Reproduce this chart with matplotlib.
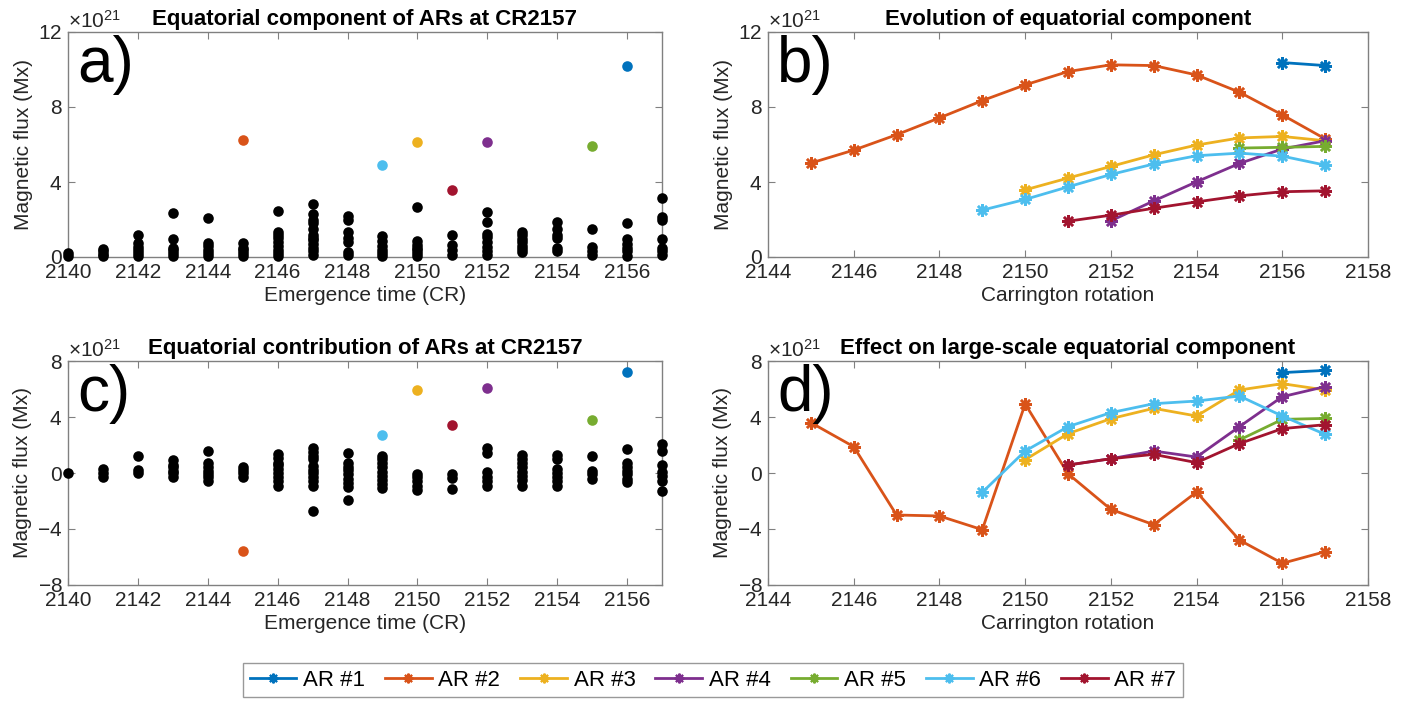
import matplotlib
matplotlib.use("Agg")
import matplotlib.pyplot as plt
from matplotlib.ticker import ScalarFormatter
from matplotlib.lines import Line2D

plt.rcParams['font.family'] = ['Liberation Sans', 'DejaVu Sans']
plt.rcParams['mathtext.fontset'] = 'custom'
plt.rcParams['mathtext.rm'] = 'Liberation Sans'
plt.rcParams['mathtext.it'] = 'Liberation Sans'
plt.rcParams['axes.unicode_minus'] = False

SCALE = 1e21

# ---------------- data (units of 1e21 Mx) ----------------
# Panel a: equatorial component of ARs at CR2157 (black dots per emergence CR)
a_black = {
    2140: [0.05, 0.2],
    2141: [0.05, 0.15, 0.3, 0.45],
    2142: [0.05, 0.2, 0.4, 0.55, 0.75, 1.2],
    2143: [0.05, 0.2, 0.4, 0.5, 0.95, 2.35],
    2144: [0.05, 0.2, 0.4, 0.6, 0.75, 2.07],
    2145: [0.05, 0.2, 0.35, 0.5, 0.75],
    2146: [0.05, 0.2, 0.4, 0.6, 0.8, 1.0, 1.2, 1.35, 2.45],
    2147: [0.1, 0.3, 0.5, 0.7, 0.9, 1.0, 1.2, 1.5, 1.8, 2.0, 2.3, 2.85],
    2148: [0.1, 0.25, 0.8, 1.0, 1.35, 2.0, 2.2],
    2149: [0.05, 0.2, 0.4, 0.6, 0.85, 1.1],
    2150: [0.05, 0.2, 0.35, 0.5, 0.65, 0.85, 2.65],
    2151: [0.1, 0.4, 0.65, 1.15],
    2152: [0.1, 0.3, 0.55, 0.8, 1.05, 1.25, 1.85, 2.42],
    2153: [0.25, 0.45, 0.6, 0.8, 0.95, 1.15, 1.35],
    2154: [0.3, 0.5, 1.0, 1.2, 1.5, 1.85],
    2155: [0.1, 0.3, 0.55, 1.5],
    2156: [0.05, 0.3, 0.5, 0.7, 0.95, 1.8],
    2157: [0.1, 0.3, 0.5, 0.95, 1.95, 2.15, 3.15],
}
# Panel c: equatorial contribution of ARs at CR2157 (black dots)
c_black = {
    2140: [0.0],
    2141: [-0.25, 0.0, 0.3],
    2142: [0.0, 0.25, 1.2],
    2143: [-0.3, 0.0, 0.15, 0.4, 0.6, 0.95],
    2144: [-0.55, -0.3, -0.1, 0.15, 0.4, 0.75, 1.55],
    2145: [-0.25, 0.0, 0.2, 0.45],
    2146: [-0.9, -0.6, -0.3, 0.0, 0.3, 0.55, 0.75, 1.05, 1.35],
    2147: [-2.7, -0.9, -0.6, -0.3, 0.0, 0.25, 0.5, 1.0, 1.2, 1.5, 1.8],
    2148: [-1.9, -1.0, -0.7, -0.4, -0.1, 0.2, 0.45, 0.75, 1.45],
    2149: [-1.05, -0.8, -0.5, -0.2, 0.1, 0.4, 0.75, 1.0, 1.2],
    2150: [-1.2, -0.9, -0.6, -0.3, -0.1],
    2151: [-1.15, -0.35, -0.1],
    2152: [-0.9, -0.6, -0.3, 0.1, 1.45, 1.8],
    2153: [-0.9, -0.5, -0.2, 0.1, 0.4, 0.75, 1.0, 1.3],
    2154: [-0.9, -0.6, -0.3, 0.0, 0.3, 1.0, 1.3],
    2155: [-0.4, -0.1, 0.15, 1.2],
    2156: [-0.65, -0.4, -0.1, 0.15, 0.4, 0.7, 1.7],
    2157: [-1.3, -0.55, -0.2, 0.1, 0.6, 1.55, 2.1],
}

ar_names = ["AR #1", "AR #2", "AR #3", "AR #4", "AR #5", "AR #6", "AR #7"]
ar_colors = ["#0072BD", "#D95319", "#EDB120", "#7E2F8E", "#77AC30", "#4DBEEE", "#A2142F"]
ar_emerge = [2156, 2145, 2150, 2152, 2155, 2149, 2151]
a_colored = [10.2, 6.25, 6.15, 6.15, 5.9, 4.9, 3.55]
c_colored = [7.25, -5.6, 5.9, 6.1, 3.8, 2.75, 3.45]

# Panel b: evolution of equatorial component
b_cr = [
    [2156, 2157],
    [2145, 2146, 2147, 2148, 2149, 2150, 2151, 2152, 2153, 2154, 2155, 2156, 2157],
    [2150, 2151, 2152, 2153, 2154, 2155, 2156, 2157],
    [2152, 2153, 2154, 2155, 2156, 2157],
    [2155, 2156, 2157],
    [2149, 2150, 2151, 2152, 2153, 2154, 2155, 2156, 2157],
    [2151, 2152, 2153, 2154, 2155, 2156, 2157],
]
b_val = [
    [10.37, 10.21],
    [5.01, 5.70, 6.52, 7.42, 8.34, 9.18, 9.89, 10.25, 10.21, 9.71, 8.79, 7.58, 6.3],
    [3.58, 4.21, 4.83, 5.45, 5.97, 6.35, 6.43, 6.2],
    [1.93, 2.99, 4.01, 4.99, 5.76, 6.2],
    [5.81, 5.85, 5.9],
    [2.5, 3.07, 3.74, 4.40, 4.96, 5.4, 5.54, 5.38, 4.9],
    [1.91, 2.23, 2.6, 2.94, 3.26, 3.48, 3.53],
]
# Panel d: effect on large-scale equatorial component
d_cr = [
    [2156, 2157],
    [2145, 2146, 2147, 2148, 2149, 2150, 2151, 2152, 2153, 2154, 2155, 2156, 2157],
    [2150, 2151, 2152, 2153, 2154, 2155, 2156, 2157],
    [2151, 2152, 2153, 2154, 2155, 2156, 2157],
    [2155, 2156, 2157],
    [2149, 2150, 2151, 2152, 2153, 2154, 2155, 2156, 2157],
    [2151, 2152, 2153, 2154, 2155, 2156, 2157],
]
d_val = [
    [7.17, 7.33],
    [3.6, 1.88, -3.0, -3.07, -4.05, 4.93, -0.05, -2.6, -3.69, -1.36, -4.79, -6.45, -5.62],
    [0.95, 2.81, 3.88, 4.62, 4.07, 5.93, 6.38, 5.93],
    [0.57, 1.02, 1.57, 1.14, 3.31, 5.45, 6.17],
    [2.36, 3.83, 3.9],
    [-1.38, 1.57, 3.31, 4.31, 4.95, 5.14, 5.5, 4.07, 2.76],
    [0.57, 1.02, 1.33, 0.74, 2.1, 3.17, 3.45],
]

titles = ["Equatorial component of ARs at CR2157",
          "Evolution of equatorial component",
          "Equatorial contribution of ARs at CR2157",
          "Effect on large-scale equatorial component"]
panel_labels = ["a)", "b)", "c)", "d)"]

# ---------------- figure ----------------
W, H = 1408, 702
fig = plt.figure(figsize=(W / 100, H / 100), dpi=100)

def px_axes(l, t, r, b):
    return fig.add_axes([l / W, 1 - b / H, (r - l) / W, (b - t) / H])

ax_a = px_axes(68, 32, 662, 257)
ax_b = px_axes(768, 32, 1368, 257)
ax_c = px_axes(68, 361, 662, 585)
ax_d = px_axes(768, 361, 1368, 585)

SPINE = "#808080"
TXT = "#262626"
TICK_FS = 15
LAB_FS = 15
TITLE_FS = 16

def style(ax, xlim, xticks, ylim, yticks, xlabel, title, label):
    ax.set_xlim(*xlim)
    ax.set_ylim(ylim[0] * SCALE, ylim[1] * SCALE)
    ax.set_xticks(xticks)
    ax.set_yticks([v * SCALE for v in yticks])
    fmt = ScalarFormatter(useMathText=True)
    fmt.set_powerlimits((21, 21))
    ax.yaxis.set_major_formatter(fmt)
    ax.yaxis.get_offset_text().set_fontsize(15)
    ax.yaxis.get_offset_text().set_color(TXT)
    ax.tick_params(direction="in", top=True, right=True, length=5, width=0.8,
                   color=SPINE, labelsize=TICK_FS, labelcolor=TXT, pad=4)
    for s in ax.spines.values():
        s.set_color(SPINE)
        s.set_linewidth(1.0)
    ax.set_xlabel(xlabel, fontsize=LAB_FS, color=TXT, labelpad=3)
    ax.set_ylabel("Magnetic flux (Mx)", fontsize=LAB_FS, color=TXT, labelpad=4)
    ax.set_title(title, fontsize=TITLE_FS, fontweight="bold", pad=5)
    ax.text(0.015, 0.985, label, transform=ax.transAxes, fontsize=46,
            va="top", ha="left", color="black")

DOT = 58

# panel a
for cr, vals in a_black.items():
    ax_a.scatter([cr] * len(vals), [v * SCALE for v in vals], s=DOT, c="black",
                 clip_on=False, zorder=3, linewidths=0)
for i in range(7):
    ax_a.scatter([ar_emerge[i]], [a_colored[i] * SCALE], s=DOT, c=ar_colors[i],
                 clip_on=False, zorder=4, linewidths=0)
style(ax_a, (2140, 2157), range(2140, 2157, 2), (0, 12), [0, 4, 8, 12],
      "Emergence time (CR)", titles[0], panel_labels[0])

# panel c
for cr, vals in c_black.items():
    ax_c.scatter([cr] * len(vals), [v * SCALE for v in vals], s=DOT, c="black",
                 clip_on=False, zorder=3, linewidths=0)
for i in range(7):
    ax_c.scatter([ar_emerge[i]], [c_colored[i] * SCALE], s=DOT, c=ar_colors[i],
                 clip_on=False, zorder=4, linewidths=0)
style(ax_c, (2140, 2157), range(2140, 2157, 2), (-8, 8), [-8, -4, 0, 4, 8],
      "Emergence time (CR)", titles[2], panel_labels[2])

MARK = (8, 2, 0)
handles = []
for i in range(7):
    ax_b.plot(b_cr[i], [v * SCALE for v in b_val[i]], color=ar_colors[i], lw=2,
              marker=MARK, ms=9, mew=1.8, clip_on=False, zorder=3)
    ax_d.plot(d_cr[i], [v * SCALE for v in d_val[i]], color=ar_colors[i], lw=2,
              marker=MARK, ms=9, mew=1.8, clip_on=False, zorder=3)
    handles.append(Line2D([], [], color=ar_colors[i], lw=2, marker=MARK, ms=7, mew=1.5))

style(ax_b, (2144, 2158), range(2144, 2159, 2), (0, 12), [0, 4, 8, 12],
      "Carrington rotation", titles[1], panel_labels[1])
style(ax_d, (2144, 2158), range(2144, 2159, 2), (-8, 8), [-8, -4, 0, 4, 8],
      "Carrington rotation", titles[3], panel_labels[3])

leg = fig.legend(handles, ar_names, loc="center", bbox_to_anchor=(713 / W, 1 - 680 / H),
                 ncol=7, fontsize=16, frameon=True, fancybox=False,
                 handlelength=2.1, handletextpad=0.3, columnspacing=0.9,
                 borderpad=0.3)
leg.get_frame().set_edgecolor(SPINE)
leg.get_frame().set_linewidth(1.0)

fig.savefig("out.png", dpi=100)
